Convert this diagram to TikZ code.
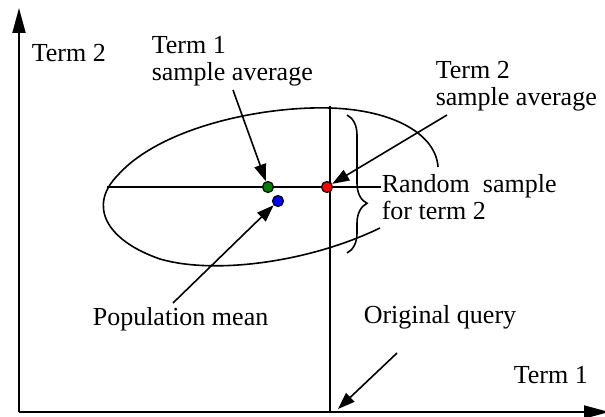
\documentclass[tikz,border=0pt]{standalone}
\usepackage{fontspec}
\setmainfont{Liberation Serif}
\usepackage{xcolor}
\usepackage{tikz}
\usetikzlibrary{arrows.meta,decorations.pathreplacing}

\definecolor{avggreen}{RGB}{0,128,0}
\definecolor{meanblue}{RGB}{0,0,255}
\definecolor{avgred}{RGB}{255,0,0}

\begin{document}
\begin{tikzpicture}[
  x=1pt, y=-1pt, line width=1.6pt,
  lbl/.style={inner sep=0pt, anchor=base west, align=left,
              font=\fontsize{26}{27}\selectfont},
  dot/.style={circle, draw, line width=1.2pt, minimum size=11pt, inner sep=0pt},
  arr/.style={-{Triangle[length=17pt,width=12pt]}},
  axis/.style={-{Triangle[length=25pt,width=13pt]}, line width=1.8pt}
]
\useasboundingbox (0,0) rectangle (605,417);

% axes
\coordinate (origin) at (19,412);
\coordinate (ytip) at (19,8);
\coordinate (xtip) at (609,412);
\draw[axis] (origin) -- (ytip);
\draw[axis] (origin) -- (xtip);

% labels (base = last line)
\node[lbl] (yname) at (31,62) {Term 2};
\node[lbl] (xname) at (513,383) {Term 1};
\node[lbl] (t1lab) at (151,81) {Term 1\\sample average};
\node[lbl] (t2lab) at (435,106) {Term 2\\sample average};
\node[lbl] (rslab) at (381,219) {Random~~sample\\for term 2};
\node[lbl] (poplab) at (92,325) {Population mean};
\node[lbl] (qlab) at (363,323) {Original query};

% sample region
\draw (438,167) .. controls (436,135) and (395,110) .. (330,108)
  .. controls (260,106) and (160,128) .. (118,175)
  .. controls (88,205) and (105,240) .. (160,259)
  .. controls (215,275) and (310,262) .. (380,228);

% query lines
\coordinate (vtop) at (330,106);
\coordinate (hleft) at (107,187);
\draw (vtop) -- (vtop |- origin);
\draw (hleft) -- (hleft -| rslab.west);
\draw[decorate, decoration={brace, amplitude=20pt, aspect=0.64}] (347,115) -- (347,253);

% points
\node[dot, fill=avggreen] (t1avg) at (268,187) {};
\node[dot, fill=avgred] (t2avg) at (327,187) {};
\node[dot, fill=meanblue] (popmean) at (278,201) {};

% pointers
\coordinate (t1from) at (233,90);
\coordinate (t2from) at (447,115);
\coordinate (popfrom) at (173,303);
\coordinate (qfrom) at (397,353);
\coordinate (qpt) at (338,409);
\draw[arr] (t1from) -- (t1avg);
\draw[arr] (t2from) -- (t2avg);
\draw[arr] (popfrom) -- (popmean);
\draw[arr] (qfrom) -- (qpt);
\end{tikzpicture}
\end{document}
